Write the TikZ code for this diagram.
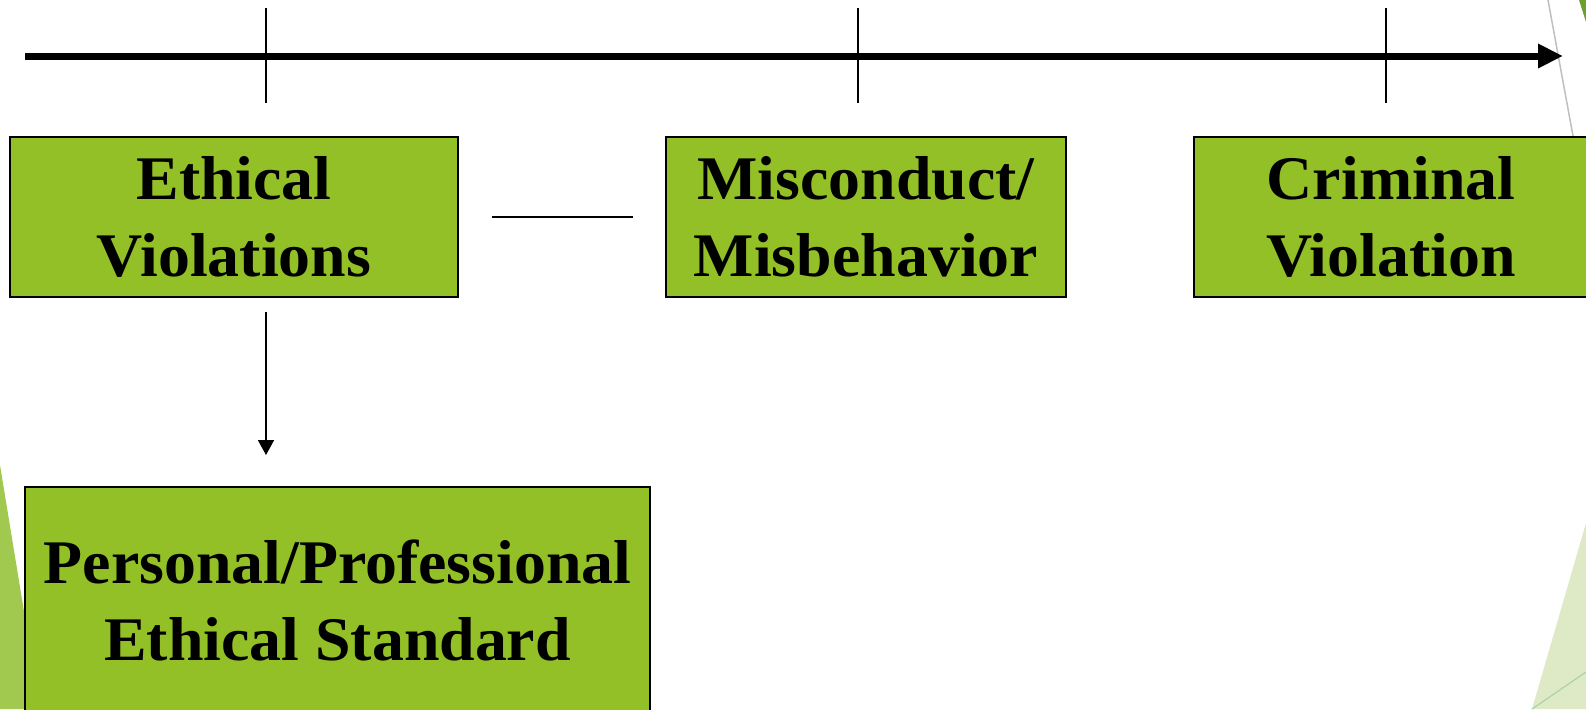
\documentclass[tikz,border=0pt]{standalone}
\usepackage{fontspec}
\setmainfont{Liberation Serif}[FakeStretch=1.03]
\usetikzlibrary{arrows.meta}

\definecolor{boxgreen}{HTML}{92C026}
\definecolor{leafgreen}{HTML}{A2C94F}
\definecolor{palegreen}{HTML}{DDEAC5}
\definecolor{darkleaf}{HTML}{6E9E2B}

\tikzset{
  stagebox/.style={draw=black, line width=1pt, fill=boxgreen, align=center,
    inner sep=0pt, font=\fontsize{31}{38.5}\selectfont\bfseries},
  tickline/.style={line width=0.75pt},
}

\begin{document}
\begin{tikzpicture}[x=0.5pt, y=-0.5pt]
    \useasboundingbox (0,0) rectangle (1586,709);

    % Background leaves
    \fill[leafgreen] (0,465) -- (40,709) -- (0,709) -- cycle;
    \fill[darkleaf] (1579,0) -- (1586,0) -- (1586,22) -- cycle;
    \draw[gray!50, line width=0.75pt] (1548,0) -- (1573,136);
    \fill[palegreen] (1586,523) -- (1532,709) -- (1586,709) -- cycle;
    \draw[green!30!gray!50, line width=0.6pt] (1532,709) -- (1586,672);

    % Timeline
    \coordinate (start) at (25,56);
    \coordinate (end) at (1563,56);
    \draw[line width=3.5pt, -{Triangle[length=12.5pt, width=11.5pt]}] (start) -- (end);
    \foreach \name/\x in {t1/266, t2/858, t3/1386} {
        \coordinate (\name) at (\x,8);
        \draw[tickline] (\name) -- ++(0,95);
    }

    % Stages
    \node[stagebox, minimum width=224pt, minimum height=80pt] (ethical) at (234,217) {Ethical\\Violations};
    \node[stagebox, minimum width=200pt, minimum height=80pt] (misconduct) at (866,217) {Misconduct/\\Misbehavior};
    \node[stagebox, minimum width=197pt, minimum height=80pt] (criminal) at (1391,217) {Criminal\\Violation};
    \node[stagebox, minimum width=312.5pt, minimum height=113pt] (standard) at (337.5,600) {Personal/Professional\\Ethical Standard};

    % Connectors
    \draw[line width=0.75pt] ([xshift=16.5pt]ethical.east) -- ([xshift=-16pt]misconduct.west);
    \coordinate (downtop) at (266,312);
    \coordinate (downtip) at (266,455);
    \draw[line width=0.9pt, -{Triangle[length=7.5pt, width=8pt]}] (downtop) -- (downtip);
\end{tikzpicture}
\end{document}
